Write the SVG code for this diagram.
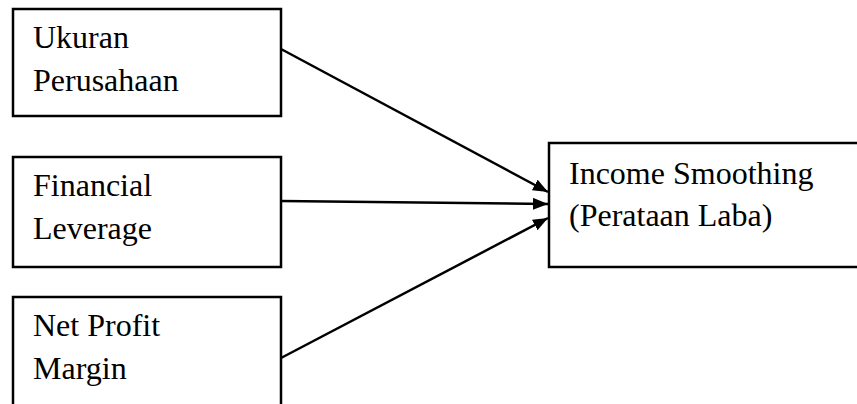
<svg xmlns="http://www.w3.org/2000/svg" width="857" height="404" viewBox="0 0 857 404">
<defs>
<style>
.box{fill:#fff;stroke:#000;stroke-width:2.5}
.t{font-family:"Liberation Serif","Times New Roman",serif;font-size:32px;fill:#000}
.c{stroke:#000;stroke-width:2.5;fill:none;marker-end:url(#ah)}
</style>
<marker id="ah" markerWidth="15" markerHeight="12" refX="15" refY="6" orient="auto" markerUnits="userSpaceOnUse" viewBox="0 0 15 12">
<path d="M0,0 L15,6 L0,12 z" fill="#000"/>
</marker>
</defs>
<rect width="857" height="404" fill="#fff"/>
<g id="n1"><rect class="box" x="13" y="9" width="268" height="107"/><text class="t" x="33" y="48">Ukuran</text><text class="t" x="33" y="91">Perusahaan</text></g>
<g id="n2"><rect class="box" x="13" y="157" width="268" height="110"/><text class="t" x="33" y="196">Financial</text><text class="t" x="33" y="239">Leverage</text></g>
<g id="n3"><rect class="box" x="13" y="297" width="268" height="130"/><text class="t" x="33" y="336">Net Profit</text><text class="t" x="33" y="379">Margin</text></g>
<g id="n4"><rect class="box" x="549" y="143" width="330" height="124"/><text class="t" x="569" y="184">Income Smoothing</text><text class="t" x="569" y="226">(Perataan Laba)</text></g>
<g id="connectors">
<line class="c" x1="281" y1="49" x2="548" y2="192"/>
<line class="c" x1="281" y1="201" x2="548" y2="204"/>
<line class="c" x1="281" y1="358" x2="548" y2="218"/>
</g>
</svg>
